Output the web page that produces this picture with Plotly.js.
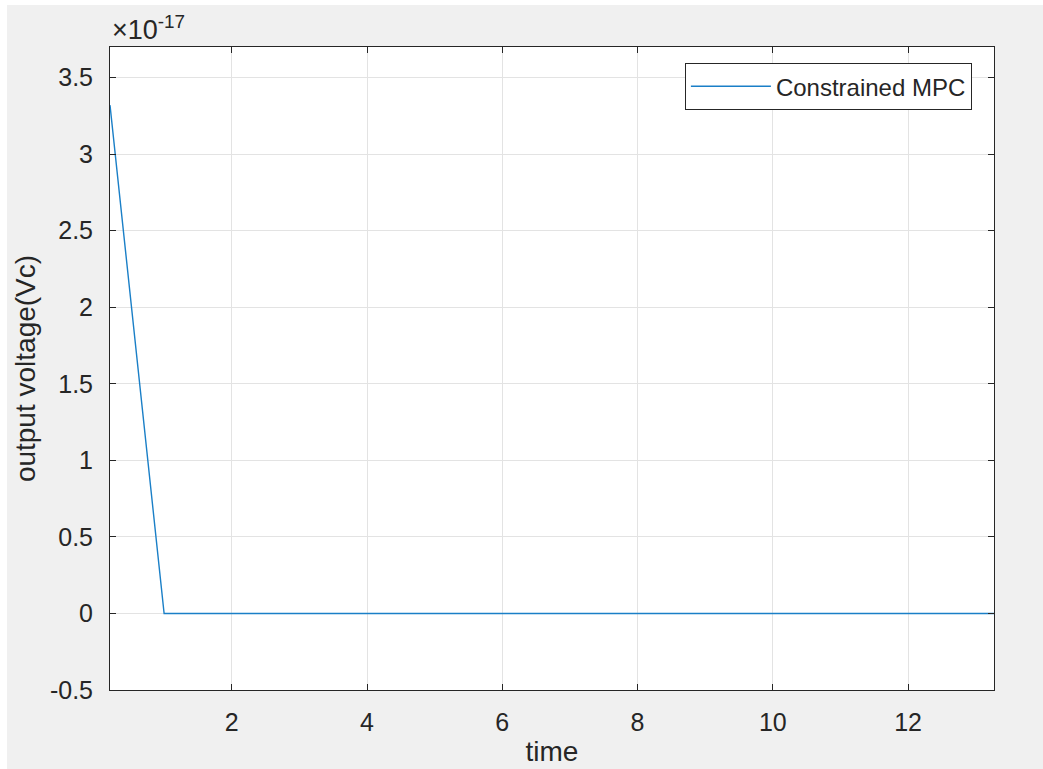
<!DOCTYPE html>
<html>
<head>
<meta charset="utf-8">
<script src="https://cdn.plot.ly/plotly-3.0.1.min.js"></script>
<style>
  html, body { margin: 0; padding: 0; background: #ffffff; width: 1043px; height: 769px; overflow: hidden; }
  #chart { position: absolute; left: 7px; top: 5px; width: 1036px; height: 764px; }
</style>
</head>
<body>
<div id="chart"></div>
<script>
// Data (time, output voltage in volts)
const time = [0.2, 1.0, 13.27];
const vc = [3.32e-17, 0, 0];
const seriesName = "Constrained MPC";

// Axis ticks
const xTicks = [2, 4, 6, 8, 10, 12];
const yTickValues = [-0.5, 0, 0.5, 1, 1.5, 2, 2.5, 3, 3.5];   // in units of 1e-17
const yTickLabels = ["-0.5", "0", "0.5", "1", "1.5", "2", "2.5", "3", "3.5"];
const yScale = 1e-17;
const xTitle = "time";
const yTitle = "output voltage(Vc)";
const exponentLabel = "×10<sup>-17</sup>";

const axisColor = "#262626";
const gridColor = "#e3e3e3";
const tickFont = { family: "Liberation Sans, Arial, sans-serif", size: 25, color: axisColor };

const trace = {
  x: time,
  y: vc,
  type: "scatter",
  mode: "lines",
  name: seriesName,
  line: { color: "#1a7fc7", width: 1.4 },
  showlegend: true
};

const layout = {
  width: 1036,
  height: 764,
  paper_bgcolor: "#f0f0f0",
  plot_bgcolor: "#ffffff",
  margin: { l: 103, r: 49, t: 42, b: 79 },
  font: { family: "Liberation Sans, Arial, sans-serif", color: axisColor },
  xaxis: {
    range: [0.2, 13.27],
    tickvals: xTicks,
    ticktext: xTicks.map(String),
    ticks: "inside",
    ticklen: 6,
    tickcolor: axisColor,
    showline: true,
    linecolor: axisColor,
    linewidth: 1,
    mirror: "ticks",
    showgrid: true,
    gridcolor: gridColor,
    zeroline: false,
    tickfont: tickFont,
    ticklabelstandoff: 10,
    title: { text: xTitle, font: { size: 28, color: axisColor }, standoff: 6 }
  },
  yaxis: {
    range: [-0.5 * yScale, 3.7 * yScale],
    tickvals: yTickValues.map(v => v * yScale),
    ticktext: yTickLabels,
    ticks: "inside",
    ticklen: 6,
    tickcolor: axisColor,
    showline: true,
    linecolor: axisColor,
    linewidth: 1,
    mirror: "ticks",
    showgrid: true,
    gridcolor: gridColor,
    zeroline: false,
    tickfont: tickFont,
    ticklabelstandoff: 11,
    title: { text: yTitle, font: { size: 28, color: axisColor }, standoff: 6 }
  },
  legend: {
    x: 0.975,
    y: 0.975,
    xanchor: "right",
    yanchor: "top",
    bgcolor: "#ffffff",
    bordercolor: axisColor,
    borderwidth: 1,
    font: { size: 24, color: axisColor },
    itemwidth: 80
  },
  annotations: [{
    xref: "paper", yref: "paper",
    x: 0, y: 1,
    xanchor: "left", yanchor: "bottom",
    yshift: 0,
    text: exponentLabel,
    showarrow: false,
    font: { size: 27, color: axisColor }
  }]
};

Plotly.newPlot("chart", [trace], layout, { displayModeBar: false, staticPlot: true });
</script>
</body>
</html>
